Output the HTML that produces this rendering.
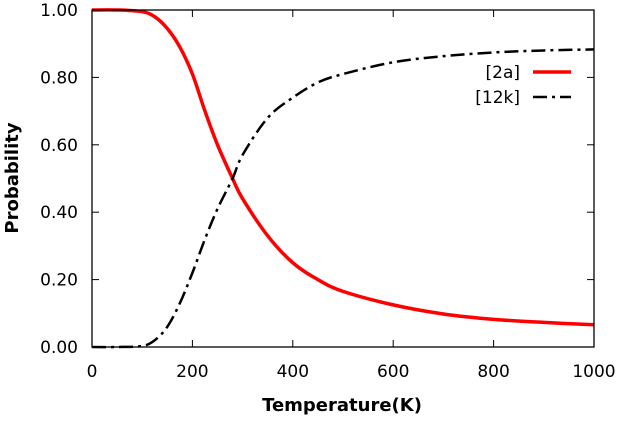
<!DOCTYPE html>
<html><head><meta charset="utf-8"><style>
body{margin:0;background:#fff}
svg text{font-family:"DejaVu Sans","Liberation Sans",sans-serif;font-size:17px;fill:#000}
svg text.title{font-size:18px;font-weight:bold}
</style></head><body>
<svg id="chart" width="622" height="417">
<g id="axes"></g><g id="series"></g>
<rect x="92" y="10" width="502" height="337" fill="none" stroke="#000" stroke-width="1.3"/>
<text class="title" x="342" y="411" text-anchor="middle">Temperature(K)</text>
<text class="title" transform="translate(18,178) rotate(-90)" text-anchor="middle">Probability</text>
<g>
<text x="520" y="78" text-anchor="end">[2a]</text>
<line x1="533" y1="72" x2="571" y2="72" stroke="#f00" stroke-width="3.5"/>
<text x="520" y="103" text-anchor="end">[12k]</text>
<line x1="533" y1="97" x2="571" y2="97" stroke="#000" stroke-width="2.5" stroke-dasharray="14,5,3,5"/>
</g>
</svg>
<script>
const temps=[0,50,100,125,150,175,200,225,250,280,300,350,400,450,500,600,700,800,900,1000];
const p2a=[1,1,0.995,0.98,0.945,0.89,0.81,0.7,0.6,0.5,0.44,0.33,0.25,0.2,0.165,0.125,0.098,0.082,0.073,0.066];
const p12k=[0,0,0.003,0.02,0.06,0.13,0.22,0.32,0.41,0.5,0.57,0.68,0.74,0.785,0.81,0.845,0.863,0.874,0.88,0.883];
const xTicks=[0,200,400,600,800,1000];
const yTicks=[0,0.2,0.4,0.6,0.8,1.0];
const X=v=>92+v/1000*502, Y=v=>347-v*337;
const ns="http://www.w3.org/2000/svg";
const axes=document.getElementById('axes'), ser=document.getElementById('series');
function mk(t,a,p){const e=document.createElementNS(ns,t);for(const k in a)e.setAttribute(k,a[k]);p.appendChild(e);return e;}
xTicks.forEach(v=>{
 const l=mk('line',{x1:X(v),x2:X(v),y1:347,y2:340,stroke:'#000'},axes);
 
 
 mk('line',{x1:X(v),x2:X(v),y1:10,y2:17,stroke:'#000'},axes);
 const t=mk('text',{x:X(v),y:377,'text-anchor':'middle'},axes);t.textContent=v;
 
 
});
yTicks.forEach(v=>{
 const l=mk('line',{x1:92,x2:99,y1:Y(v),y2:Y(v),stroke:'#000'},axes);
 
 
 mk('line',{x1:594,x2:587,y1:Y(v),y2:Y(v),stroke:'#000'},axes);
 const t=mk('text',{x:78,y:Y(v)+6,'text-anchor':'end'},axes);t.textContent=v.toFixed(2);
 
 
});
function path(vals){
 const pts=temps.map((t,i)=>[X(t),Y(vals[i])]);
 let d='M'+pts[0];
 for(let i=0;i<pts.length-1;i++){
  const p0=pts[i-1]||pts[i],p1=pts[i],p2=pts[i+1],p3=pts[i+2]||p2;
  d+=' C'+(p1[0]+(p2[0]-p0[0])/6)+','+(p1[1]+(p2[1]-p0[1])/6)+' '+(p2[0]-(p3[0]-p1[0])/6)+','+(p2[1]-(p3[1]-p1[1])/6)+' '+p2;
 }
 return d;
}
const r=mk('path',{d:path(p2a),fill:'none',stroke:'#f00','stroke-width':3.5},ser);


const k=mk('path',{d:path(p12k),fill:'none',stroke:'#000','stroke-width':2.5,'stroke-dasharray':'14,5,3,5'},ser);


</script>
</body></html>
